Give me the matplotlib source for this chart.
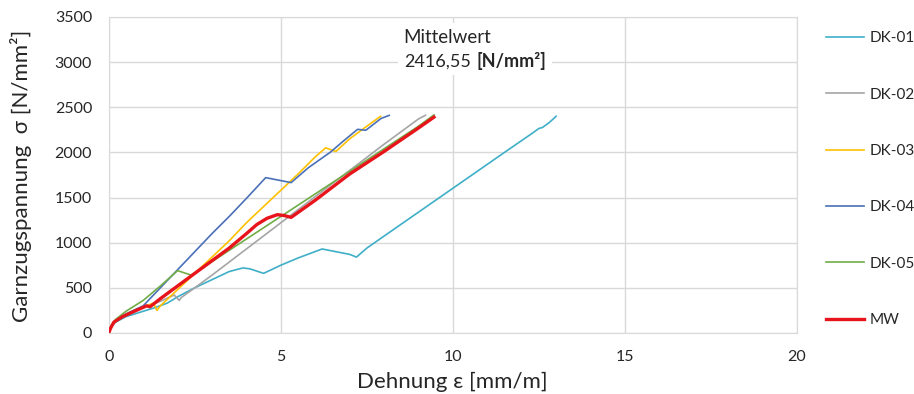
import matplotlib
matplotlib.use("Agg")
import matplotlib.pyplot as plt

plt.rcParams['font.family'] = ['Lato', 'DejaVu Sans']

# ---- data ----
dk01_x = [0, 0.05, 0.2, 0.5, 1.0, 1.3, 1.7, 2.0, 2.1, 2.5, 3.0, 3.5, 3.9, 4.1, 4.5, 5.0, 5.5, 6.2, 6.6, 7.0, 7.2, 7.5, 8.5, 9.5, 10.5, 11.5, 12.3, 12.5, 12.6, 12.8, 13.0]
dk01_y = [0, 60, 120, 180, 240, 275, 330, 400, 420, 500, 590, 680, 720, 710, 660, 750, 830, 930, 900, 870, 840, 940, 1205, 1470, 1735, 2000, 2210, 2265, 2275, 2330, 2400]

dk02_x = [0, 0.05, 0.2, 0.5, 1.0, 1.5, 1.9, 2.05, 2.1, 2.5, 3, 4, 5, 6, 7, 8, 9, 9.2]
dk02_y = [0, 70, 140, 200, 280, 350, 420, 360, 390, 500, 640, 930, 1220, 1510, 1800, 2090, 2370, 2410]

dk03_x = [0, 0.05, 0.2, 0.5, 1.0, 1.3, 1.4, 1.5, 2, 2.5, 3, 3.5, 4, 4.5, 5, 5.5, 6, 6.3, 6.6, 7, 7.5, 7.9]
dk03_y = [0, 70, 140, 210, 290, 330, 250, 300, 480, 660, 840, 1020, 1220, 1400, 1580, 1760, 1950, 2050, 2010, 2150, 2290, 2400]

dk04_x = [0, 0.05, 0.2, 0.5, 1, 1.5, 2, 2.5, 3, 3.5, 4, 4.56, 5.3, 5.8, 6.45, 6.8, 7.23, 7.47, 7.91, 8.15]
dk04_y = [0, 70, 140, 210, 300, 500, 700, 900, 1100, 1290, 1490, 1720, 1665, 1830, 2005, 2120, 2255, 2245, 2375, 2410]

dk05_x = [0, 0.05, 0.2, 0.5, 1, 1.5, 2.0, 2.4, 3, 4, 5, 6, 7, 8, 9, 9.45]
dk05_y = [0, 70, 150, 240, 360, 520, 690, 640, 790, 1040, 1290, 1540, 1790, 2040, 2290, 2415]

mw_x = [0, 0.05, 0.15, 0.4, 0.8, 1.1, 1.2, 1.5, 2.0, 2.5, 3.0, 3.5, 4.0, 4.3, 4.6, 4.9, 5.1, 5.3, 6, 7, 8, 9, 9.45]
mw_y = [0, 50, 120, 180, 250, 300, 290, 380, 520, 660, 800, 940, 1100, 1200, 1270, 1310, 1300, 1280, 1470, 1760, 2010, 2270, 2390]

labels = ["DK-01", "DK-02", "DK-03", "DK-04", "DK-05", "MW"]
x_ticks = [0, 5, 10, 15, 20]
y_ticks = [0, 500, 1000, 1500, 2000, 2500, 3000, 3500]
mean_label = "Mittelwert"
mean_value = "2416,55"
mean_unit = "[N/mm²]"

series = [(dk01_x, dk01_y), (dk02_x, dk02_y), (dk03_x, dk03_y),
          (dk04_x, dk04_y), (dk05_x, dk05_y), (mw_x, mw_y)]
colors = ["#3FAFC8", "#A5A5A5", "#FFC000", "#4A70B8", "#70AD47", "#E8141B"]
widths = [1.2, 1.2, 1.2, 1.2, 1.2, 2.4]

fig = plt.figure(figsize=(9.14, 3.94), dpi=100)
ax = fig.add_axes([0.119, 0.155, 0.753, 0.802])

for (xs, ys), c, w, lab in zip(series, colors, widths, labels):
    ax.plot(xs, ys, color=c, lw=w, label=lab, zorder=3 if lab == "MW" else 2)

ax.set_xlim(0, 20)
ax.set_ylim(0, 3500)
ax.set_xticks(x_ticks)
ax.set_yticks(y_ticks)
ax.grid(True, color="#D9D9D9", lw=1.0)
for s in ax.spines.values():
    s.set_color("#D9D9D9")
ax.tick_params(length=0, labelsize=11.5, colors="#262626", pad=12)

fig.text(452 / 914, 1 - 382 / 394, "Dehnung ε [mm/m]", fontsize=16, color="#262626",
         ha="center", va="center")
fig.text(21 / 914, 1 - 176 / 394, "Garnzugspannung  σ [N/mm²]", fontsize=16,
         color="#262626", ha="center", va="center", rotation=90)

# annotation
bb = dict(facecolor="white", edgecolor="none", pad=4)
ax.text(8.55, 3274, mean_label, fontsize=13.5, color="#262626", va="center",
        ha="left", bbox=bb, zorder=4)
ax.text(8.58, 3008, mean_value, fontsize=13, color="#262626", va="center",
        ha="left", bbox=bb, zorder=4)
ax.text(10.7, 3008, mean_unit, fontsize=13, fontweight="bold", color="#262626",
        va="center", ha="left", bbox=bb, zorder=5)

leg = fig.legend(loc="upper left", bbox_to_anchor=(0.889, 0.955), frameon=False,
                 fontsize=11, handlelength=2.5, handletextpad=0.33,
                 labelspacing=2.77)
for t in leg.get_texts():
    t.set_color("#262626")

fig.savefig("out.png", dpi=100)
